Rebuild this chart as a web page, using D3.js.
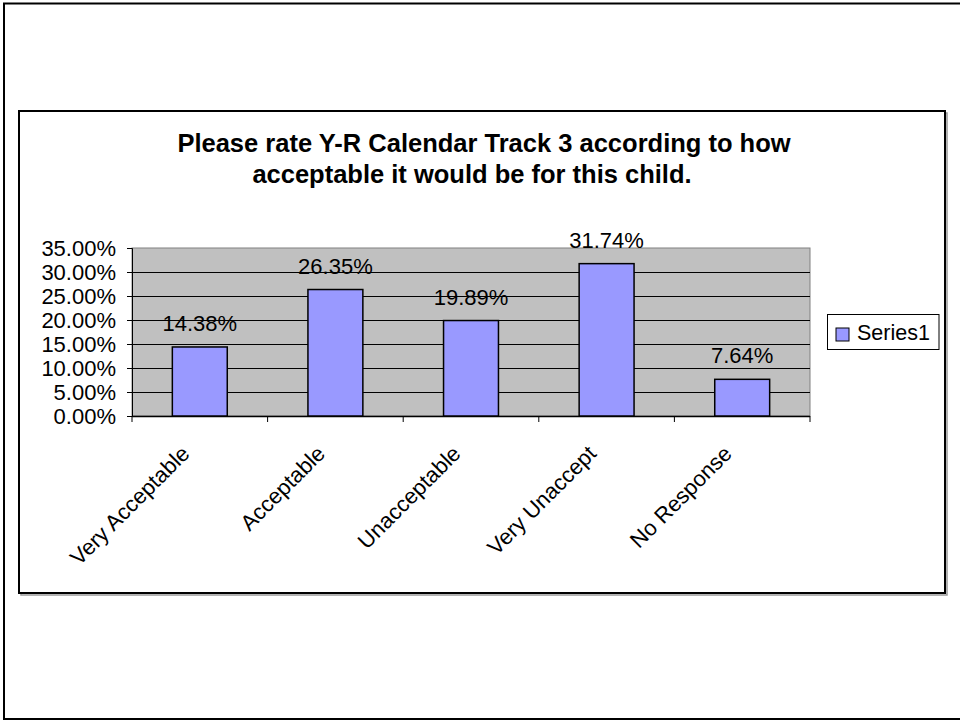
<!DOCTYPE html>
<html><head><meta charset="utf-8">
<script src="https://cdn.jsdelivr.net/npm/d3@7"></script>
<style>body{margin:0;background:#fff}svg{display:block}text{font-family:Arial,"Liberation Sans",sans-serif}</style>
</head><body>
<svg id="c" width="960" height="721"></svg>
<script>
const categories = ["Very Acceptable","Acceptable","Unacceptable","Very Unaccept","No Response"];
const values = [0.1438, 0.2635, 0.1989, 0.3174, 0.0764];
const yTicks = [0,0.05,0.10,0.15,0.20,0.25,0.30,0.35];
const titleLines = ["Please rate Y-R Calendar Track 3 according to how","acceptable it would be for this child."];
const seriesName = "Series1";

const svg = d3.select("#c");
// outer slide border
svg.append("rect").attr("x",4).attr("y",3.5).attr("width",1000).attr("height",715.5)
  .attr("fill","none").attr("stroke","#000").attr("stroke-width",2);
// chart area border with shadow
svg.append("rect").attr("x",21).attr("y",113).attr("width",926).attr("height",482)
  .attr("fill","none").attr("stroke","#999").attr("stroke-width",1.5);
svg.append("rect").attr("x",19).attr("y",111).attr("width",926).attr("height",482)
  .attr("fill","#fff").attr("stroke","#000").attr("stroke-width",2);

const L=132, R=810, T=248, B=416;
const x = d3.scaleBand().domain(categories).range([L,R]).paddingInner(0.595).paddingOuter(0.2975);
const y = d3.scaleLinear().domain([0,0.35]).range([B,T]);
const fmt = d3.format(".2%");

// plot background
svg.append("rect").attr("x",L).attr("y",T).attr("width",R-L).attr("height",B-T)
  .attr("fill","#C0C0C0").attr("stroke","#808080").attr("stroke-width",1);
// gridlines
svg.append("g").selectAll("line").data(yTicks.slice(1,-1)).join("line")
  .attr("x1",L).attr("x2",R).attr("y1",d=>Math.round(y(d))+0.5).attr("y2",d=>Math.round(y(d))+0.5)
  .attr("stroke","#000").attr("stroke-width",1);

// y axis
const ya = svg.append("g").attr("transform",`translate(${L},0)`)
  .call(d3.axisLeft(y).tickValues(yTicks).tickFormat(fmt).tickSize(5).tickPadding(11));
ya.select(".domain").attr("stroke","#000");
ya.selectAll(".tick line").attr("stroke","#000");
ya.selectAll("text").attr("font-size",22).attr("fill","#000").attr("font-family","Arial, 'Liberation Sans', sans-serif");

// x axis line and category boundary ticks
svg.append("line").attr("x1",L).attr("x2",R).attr("y1",B+0.5).attr("y2",B+0.5).attr("stroke","#000").attr("stroke-width",1.5);
const step = x.step();
const bounds = categories.map(c=>x(c)-(step-x.bandwidth())/2).concat([R]);
svg.append("g").selectAll("line").data(bounds).join("line")
  .attr("x1",d=>d).attr("x2",d=>d).attr("y1",B).attr("y2",B+6).attr("stroke","#000");

// bars
svg.append("g").selectAll("rect").data(values).join("rect")
  .attr("x",(d,i)=>x(categories[i])).attr("width",x.bandwidth())
  .attr("y",d=>y(d)).attr("height",d=>B-y(d))
  .attr("fill","#9999FF").attr("stroke","#000").attr("stroke-width",1.5);
// value labels
svg.append("g").selectAll("text").data(values).join("text")
  .attr("x",(d,i)=>x(categories[i])+x.bandwidth()/2).attr("y",d=>y(d)-16)
  .attr("text-anchor","middle").attr("font-size",22).attr("fill","#000").text(d=>fmt(d));

// category labels rotated
svg.append("g").selectAll("text").data(categories).join("text")
  .attr("transform",d=>`translate(${x(d)+x.bandwidth()/2-9},455) rotate(-45)`)
  .attr("text-anchor","end").attr("font-size",22).attr("fill","#000").text(d=>d);

// title
const titleX = [484, 472];
svg.append("g").selectAll("text").data(titleLines).join("text")
  .attr("x",(d,i)=>titleX[i]).attr("y",(d,i)=>151.7+i*31.5).attr("text-anchor","middle")
  .attr("font-size",25.5).attr("font-weight","bold").attr("fill","#000").text(d=>d);

// legend
svg.append("rect").attr("x",827.5).attr("y",314.5).attr("width",111.5).attr("height",35)
  .attr("fill","#fff").attr("stroke","#000").attr("stroke-width",1);
svg.append("rect").attr("x",836).attr("y",328).attr("width",13).attr("height",13)
  .attr("fill","#9999FF").attr("stroke","#000").attr("stroke-width",1);
svg.append("text").attr("x",857).attr("y",340).attr("font-size",21.5).attr("fill","#000").text(seriesName);
</script>
</body></html>
